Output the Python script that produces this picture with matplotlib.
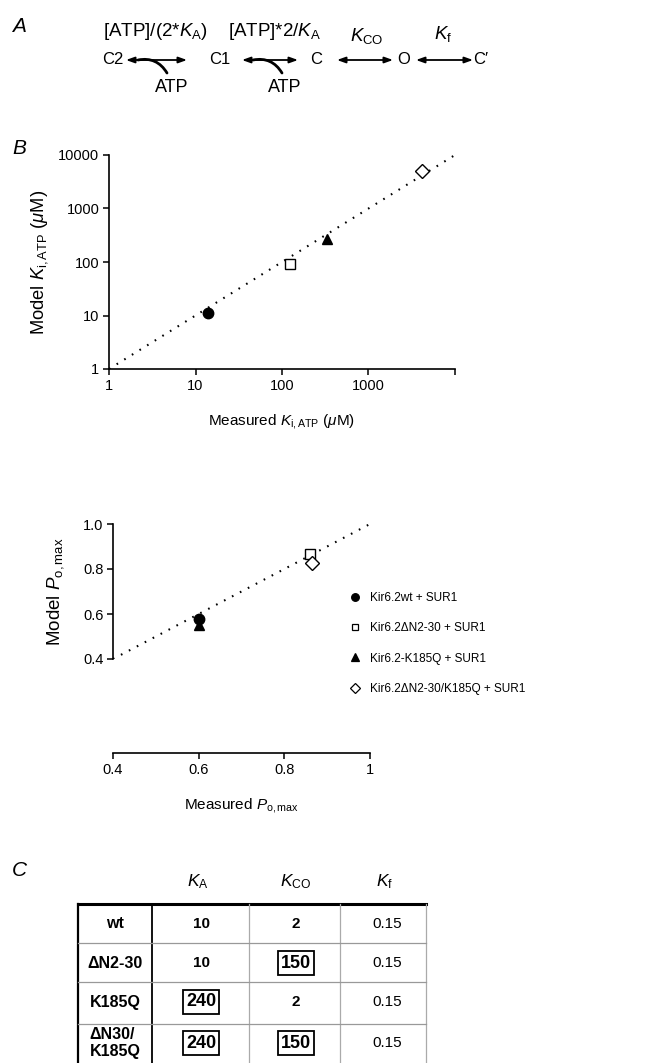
import matplotlib
matplotlib.use("Agg")
import matplotlib.pyplot as plt
import numpy as np

plt.rcParams["font.family"] = ["Liberation Sans", "DejaVu Sans"]
plt.rcParams["mathtext.fontset"] = "custom"
plt.rcParams["mathtext.rm"] = "Liberation Sans"
plt.rcParams["mathtext.it"] = "Liberation Sans:italic"
plt.rcParams["mathtext.bf"] = "Liberation Sans:bold"

# panel B data
constructs = ["Kir6.2wt + SUR1", "Kir6.2\u0394N2-30 + SUR1", "Kir6.2-K185Q + SUR1",
              "Kir6.2\u0394N2-30/K185Q + SUR1"]
markers = ["o", "s", "^", "D"]
filled = [True, False, True, False]
ki_measured = [13.9, 123, 334, 4200]
ki_model = [11, 90, 265, 5000]
po_measured = [0.60, 0.86, 0.60, 0.865]
po_model = [0.58, 0.865, 0.55, 0.825]
ki_ticks = [1, 10, 100, 1000, 10000]
ki_xlabels = ["1", "10", "100", "1000", ""]
po_ticks = [0.4, 0.6, 0.8, 1.0]
po_xlabels = ["0.4", "0.6", "0.8", "1"]
po_ylabels = ["0.4", "0.6", "0.8", "1.0"]

# panel C table
row_names = ["wt", "\u0394N2-30", "K185Q", "\u0394N30/\nK185Q"]
col_names = [r"$K_\mathrm{A}$", r"$K_\mathrm{CO}$", r"$K_\mathrm{f}$"]
ka_vals = ["10", "10", "240", "240"]
kco_vals = ["2", "150", "2", "150"]
kf_vals = ["0.15", "0.15", "0.15", "0.15"]
ka_boxed = [False, False, True, True]
kco_boxed = [False, True, False, True]

W, H = 646, 1063
fig = plt.figure(figsize=(W / 100, H / 100), dpi=100)


def rect(l, t, r, b):
    return [l / W, 1 - b / H, (r - l) / W, (b - t) / H]


# overlay in pixel units for scheme, panel letters and table
ov = fig.add_axes([0, 0, 1, 1])
ov.set_xlim(0, W)
ov.set_ylim(H, 0)
ov.axis("off")

for letter, (x, y) in zip("ABC", [(19, 27), (19, 148), (19, 870)]):
    ov.text(x, y, letter, fontsize=15, style="italic", ha="center", va="center")

# scheme A
ov.text(155, 32, r"[ATP]/(2*$K_\mathrm{A}$)", fontsize=13.5, ha="center", va="center")
ov.text(275, 32, r"[ATP]*2/$K_\mathrm{A}$", fontsize=13.5, ha="center", va="center")
ov.text(367, 36, r"$K_\mathrm{CO}$", fontsize=13.5, ha="center", va="center")
ov.text(443, 34, r"$K_\mathrm{f}$", fontsize=13.5, ha="center", va="center")
for s, x in [("C2", 113), ("C1", 220), ("C", 316), ("O", 404), ("C\u2032", 481)]:
    ov.text(x, 60, s, fontsize=12, ha="center", va="center")
for x in [172, 285]:
    ov.text(x, 88, "ATP", fontsize=13, ha="center", va="center")
for x0, x1 in [(126, 187), (242, 298), (337, 393), (416, 473)]:
    ov.annotate("", xy=(x1, 60), xytext=(x0, 60),
                arrowprops=dict(arrowstyle="<|-|>,head_length=0.5,head_width=0.18",
                                lw=1.3, color="black", shrinkA=0, shrinkB=0))
for x0 in [138, 253]:
    ov.annotate("", xy=(x0 + 29, 73), xytext=(x0, 60),
                arrowprops=dict(arrowstyle="-", lw=2, color="black", shrinkA=0, shrinkB=0,
                                connectionstyle="arc3,rad=-0.35"))

# table C
col_x = [78, 152, 249, 340, 426]
row_y = [904, 943, 982, 1024, 1070]
head_x = [198, 296, 385]
for name, x in zip(col_names, head_x):
    ov.text(x, 882, name, fontsize=12.5, ha="center", va="center")
ov.plot([col_x[0], col_x[-1]], [row_y[0]] * 2, color="black", lw=2.2)
ov.plot([col_x[0]] * 2, [row_y[0], row_y[-1]], color="black", lw=1.6)
ov.plot([col_x[1]] * 2, [row_y[0], row_y[-1]], color="black", lw=1.3)
for x in col_x[2:]:
    ov.plot([x, x], [row_y[0], row_y[-1]], color="#aaaaaa", lw=0.9)
for y in row_y[1:-1]:
    ov.plot([col_x[0], col_x[-1]], [y, y], color="#999999", lw=0.9)

row_c = [924, 963, 1002, 1043]
for i, yc in enumerate(row_c):
    ov.text(115, yc, row_names[i], fontsize=11.5, fontweight="bold", ha="center", va="center",
            linespacing=1.15, multialignment="left")
    for val, boxed, x in [(ka_vals[i], ka_boxed[i], 201), (kco_vals[i], kco_boxed[i], 296)]:
        if boxed:
            ov.text(x, yc, val, fontsize=13, fontweight="bold", ha="center", va="center",
                    bbox=dict(boxstyle="square,pad=0.18", fc="white", ec="black", lw=1.3))
        else:
            ov.text(x, yc, val, fontsize=11, fontweight="bold", ha="center", va="center")
    ov.text(387, yc, kf_vals[i], fontsize=11, ha="center", va="center")

# panel B, upper plot
ax1 = fig.add_axes(rect(109, 155, 455, 369))
ax1.set_xscale("log")
ax1.set_yscale("log")
ax1.plot(ki_ticks, ki_ticks, color="black", lw=1.5, linestyle=(0, (0.8, 3.5)), zorder=1)
for i in range(len(constructs)):
    ax1.plot(ki_measured[i], ki_model[i], marker=markers[i], ms=7.5 if markers[i] != "D" else 7,
             mfc="black" if filled[i] else "white", mec="black", mew=1.0, ls="none", zorder=3)
ax1.set_xlim(1, 10000)
ax1.set_ylim(1, 10000)
ax1.set_xticks(ki_ticks)
ax1.set_xticklabels(ki_xlabels)
ax1.set_yticks(ki_ticks)
ax1.set_yticklabels([str(t) for t in ki_ticks])
ax1.minorticks_off()
ax1.set_xlabel(r"Measured $K_\mathrm{i,ATP}$ ($\mu$M)", fontsize=11, labelpad=14)
ax1.set_ylabel(r"Model $K_\mathrm{i,ATP}$ ($\mu$M)", fontsize=13.2, labelpad=6)

# panel B, lower plot
ax2 = fig.add_axes(rect(113, 524, 370, 659))
ax2.plot([po_ticks[0], po_ticks[-1]], [po_ticks[0], po_ticks[-1]], color="black", lw=1.5,
         linestyle=(0, (0.8, 3.5)), zorder=1)
for i in range(len(constructs)):
    ax2.plot(po_measured[i], po_model[i], marker=markers[i], ms=7.5 if markers[i] != "D" else 7,
             mfc="black" if filled[i] else "white", mec="black", mew=1.0, ls="none", zorder=3,
             label=constructs[i])
ax2.set_xlim(0.4, 1.0)
ax2.set_ylim(0.4, 1.0)
ax2.set_xticks(po_ticks)
ax2.set_xticklabels(po_xlabels)
ax2.set_yticks(po_ticks)
ax2.set_yticklabels(po_ylabels)
ax2.spines["bottom"].set_position(("outward", 67.7))
ax2.set_xlabel(r"Measured $P_\mathrm{o,max}$", fontsize=11, labelpad=14)
ax2.set_ylabel(r"Model $P_\mathrm{o,max}$", fontsize=13.5, labelpad=12)

handles = [plt.Line2D([], [], marker=m, ms=5.5 if m != "s" else 5, ls="none",
                      mfc="black" if f else "white", mec="black", mew=0.9)
           for m, f in zip(markers, filled)]
fig.legend(handles, constructs, loc="upper left", bbox_to_anchor=(349 / W, 1 - 592 / H),
           frameon=False, fontsize=8.5, handlelength=1.0, handletextpad=0.8,
           labelspacing=1.55, borderpad=0, borderaxespad=0)

for ax in (ax1, ax2):
    for side in ("top", "right"):
        ax.spines[side].set_visible(False)
    for side in ("left", "bottom"):
        ax.spines[side].set_linewidth(1.2)
    ax.tick_params(direction="out", length=4, width=1.1, labelsize=10.5, pad=3)
    ax.set_facecolor("none")

fig.savefig("out.png", dpi=100)
